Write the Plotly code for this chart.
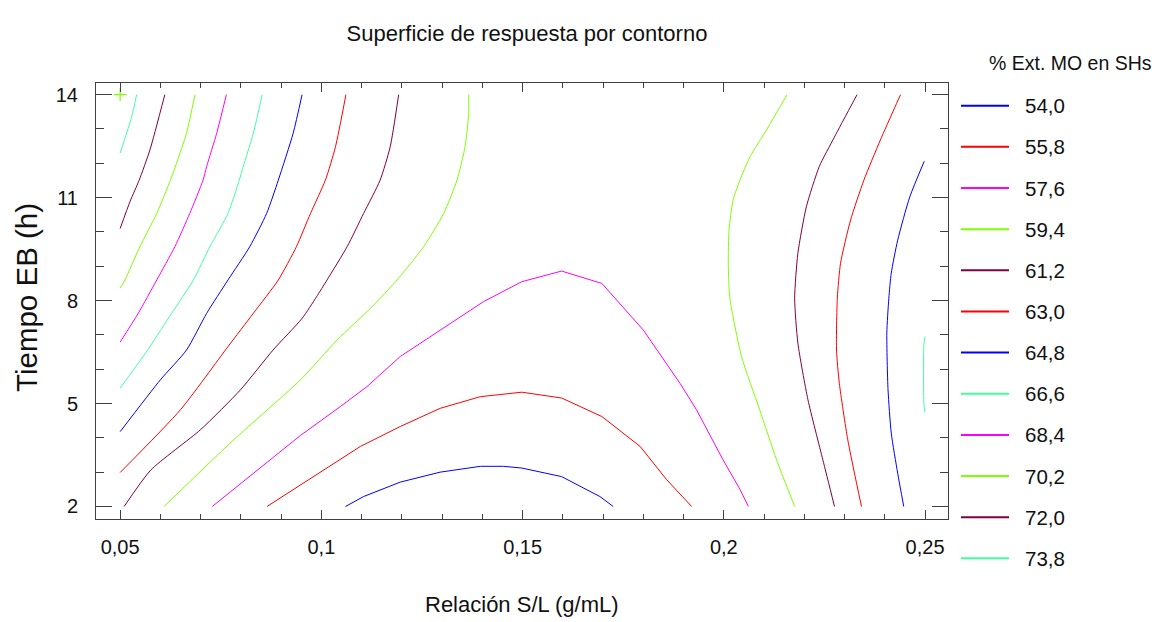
import plotly.graph_objects as go

# ---------------- data ----------------
level_labels = ["54,0", "55,8", "57,6", "59,4", "61,2", "63,0",
                "64,8", "66,6", "68,4", "70,2", "72,0", "73,8"]
level_colors = ["#0000ff", "#ff0000", "#ff00ff", "#80ff00", "#800040", "#ff0000",
                "#0000ff", "#40ffa0", "#ff00ff", "#80ff00", "#800040", "#40ffa0"]
level_shapes = ["linear", "linear", "linear", "spline", "spline", "spline",
                "spline", "spline", "spline", "spline", "spline", "spline"]

# 54,0
x_540 = [0.106, 0.1105, 0.1196, 0.1295, 0.1395, 0.1452, 0.1498, 0.1597, 0.1692, 0.1725]
y_540 = [2.0, 2.29, 2.71, 3.0, 3.17, 3.17, 3.12, 2.87, 2.29, 2.0]
# 55,8
x_558 = [0.0865, 0.0948, 0.1097, 0.1196, 0.1295, 0.1395, 0.1498, 0.1597, 0.1697, 0.1792, 0.1858, 0.192]
y_558 = [2.0, 2.63, 3.75, 4.33, 4.86, 5.2, 5.33, 5.16, 4.62, 3.75, 2.78, 2.0]
# 57,6
x_576 = [0.0729, 0.0948, 0.1047, 0.1113, 0.1196, 0.1303, 0.1403, 0.1498, 0.1597, 0.1697,
         0.18, 0.1891, 0.1932, 0.1998, 0.204, 0.2061]
y_576 = [2.0, 4.07, 4.91, 5.49, 6.37, 7.19, 7.97, 8.55, 8.86, 8.5,
         7.14, 5.59, 4.82, 3.36, 2.5, 2.0]
# 59,4 (two branches)
x_594_a = [0.0609, 0.0782, 0.0948, 0.1039, 0.1126, 0.1188, 0.1254, 0.1304, 0.1337, 0.1357, 0.1366, 0.1366]
y_594_a = [2.0, 3.94, 5.69, 6.85, 7.82, 8.6, 9.57, 10.54, 11.51, 12.48, 13.45, 14.0]
x_594_b = [0.2157, 0.2106, 0.2065, 0.204, 0.2023, 0.2013, 0.2011, 0.2015, 0.2044, 0.2089, 0.2131, 0.2176]
y_594_b = [14.0, 12.97, 12.19, 11.51, 10.93, 10.06, 9.09, 8.07, 6.37, 4.82, 3.36, 2.0]
# 61,2
x_612_a = [0.051, 0.0576, 0.07, 0.0799, 0.088, 0.0952, 0.0988, 0.1014, 0.1064, 0.1105, 0.1146, 0.1171, 0.1192]
y_612_a = [2.0, 3.06, 4.24, 5.4, 6.56, 7.48, 8.11, 8.6, 9.57, 10.54, 11.51, 12.48, 14.0]
x_612_b = [0.2331, 0.2275, 0.2237, 0.2205, 0.2184, 0.2176, 0.2184, 0.2209, 0.2246, 0.2275]
y_612_b = [14.0, 12.77, 11.9, 10.73, 9.38, 8.07, 6.76, 5.11, 3.36, 2.0]
# 63,0
x_630_a = [0.05, 0.065, 0.0768, 0.0831, 0.0893, 0.0938, 0.0973, 0.101, 0.1035, 0.1061]
y_630_a = [2.99, 4.82, 6.66, 7.63, 8.6, 9.57, 10.54, 11.51, 12.48, 14.0]
x_630_b = [0.2439, 0.2389, 0.2348, 0.2315, 0.229, 0.2282, 0.228, 0.2287, 0.2308, 0.2342]
y_630_b = [14.0, 12.68, 11.51, 10.35, 9.09, 8.07, 6.56, 5.59, 3.94, 2.0]
# 64,8
x_648_a = [0.05, 0.06, 0.0665, 0.0715, 0.0768, 0.0822, 0.0864, 0.0893, 0.093, 0.0952]
y_648_a = [4.18, 5.69, 6.56, 7.63, 8.6, 9.57, 10.54, 11.51, 12.88, 14.0]
x_648_b = [0.2498, 0.2462, 0.2432, 0.2416, 0.241, 0.2405, 0.2408, 0.2416, 0.2432, 0.2447]
y_648_b = [12.06, 11.02, 9.76, 8.8, 8.07, 7.05, 5.4, 4.14, 2.97, 2.0]
# 66,6
x_666_a = [0.05, 0.0551, 0.0574, 0.0628, 0.0682, 0.0723, 0.0768, 0.0796, 0.0806, 0.0831, 0.0853]
y_666_a = [5.45, 6.27, 6.66, 7.63, 8.6, 9.57, 10.54, 11.51, 11.91, 12.88, 14.0]
x_666_b = [0.25, 0.2497, 0.2497, 0.25]
y_666_b = [6.95, 6.7, 5.0, 4.74]
# 68,4
x_684 = [0.05, 0.0545, 0.0591, 0.0636, 0.0673, 0.0706, 0.0715, 0.074, 0.0764]
y_684 = [6.79, 7.63, 8.6, 9.57, 10.54, 11.51, 11.91, 12.88, 14.0]
# 70,2
x_702 = [0.05, 0.0512, 0.0549, 0.0591, 0.0625, 0.064, 0.0665, 0.0686]
y_702 = [8.36, 8.6, 9.57, 10.54, 11.51, 12.0, 12.88, 14.0]
# 72,0
x_720 = [0.05, 0.0525, 0.0547, 0.0574, 0.0611]
y_720 = [10.1, 10.9, 11.5, 12.39, 14.0]
# 73,8
x_738 = [0.05, 0.0529, 0.0541]
y_738 = [12.3, 13.37, 14.0]

# corner point marker
corner_x = [0.05]
corner_y = [14.0]

x_tick_vals = [0.05, 0.1, 0.15, 0.2, 0.25]
x_tick_text = ["0,05", "0,1", "0,15", "0,2", "0,25"]
y_tick_vals = [2, 5, 8, 11, 14]
y_tick_text = ["2", "5", "8", "11", "14"]

title_text = "Superficie de respuesta por contorno"
x_title = "Relación S/L (g/mL)"
y_title = "Tiempo EB (h)"
legend_title = "% Ext. MO en SHs"

# ---------------- figure ----------------
def join(*segs):
    out = []
    for i, s in enumerate(segs):
        if i:
            out.append(None)
        out.extend(s)
    return out

series_x = [x_540, x_558, x_576, join(x_594_a, x_594_b), join(x_612_a, x_612_b),
            join(x_630_a, x_630_b), join(x_648_a, x_648_b), join(x_666_a, x_666_b),
            x_684, x_702, x_720, x_738]
series_y = [y_540, y_558, y_576, join(y_594_a, y_594_b), join(y_612_a, y_612_b),
            join(y_630_a, y_630_b), join(y_648_a, y_648_b), join(y_666_a, y_666_b),
            y_684, y_702, y_720, y_738]

FONT = "Liberation Sans, Arial, sans-serif"
TXT = "#111111"

fig = go.Figure()
for i, (xs, ys) in enumerate(zip(series_x, series_y)):
    fig.add_trace(go.Scatter(
        x=xs, y=ys, mode="lines", name=level_labels[i],
        line=dict(color=level_colors[i], width=1, shape=level_shapes[i], smoothing=0.6),
        connectgaps=False, showlegend=False, hoverinfo="name",
    ))

fig.add_trace(go.Scatter(
    x=corner_x, y=corner_y, mode="markers", showlegend=False, hoverinfo="skip",
    marker=dict(symbol="cross-thin", size=9, line=dict(color="#80ff00", width=1.2)),
))

# plot-area geometry in pixels (used only to place layout items in paper units)
PL, PR, PT, PB = 96, 948, 83, 519
PW, PH = PR - PL, PB - PT

def px_x(p):
    return (p - PL) / PW

def px_y(p):
    return (PB - p) / PH

axis_common = dict(
    showline=True, linecolor="#404040", linewidth=1, mirror="allticks",
    ticks="inside", tickcolor="#404040", showgrid=False, zeroline=False,
    tickfont=dict(family=FONT, size=20, color=TXT),
)

shapes = []
annotations = [
    dict(text=x_title, xref="paper", yref="paper", x=0.5, y=px_y(604),
         xanchor="center", yanchor="middle", showarrow=False,
         font=dict(family=FONT, size=22, color=TXT)),
    dict(text=y_title, xref="paper", yref="paper", x=px_x(26), y=px_y(298),
         xanchor="center", yanchor="middle", showarrow=False, textangle=-90,
         font=dict(family=FONT, size=29.5, color=TXT)),
    dict(text=legend_title, xref="paper", yref="paper", x=px_x(1070), y=px_y(63),
         xanchor="center", yanchor="middle", showarrow=False,
         font=dict(family=FONT, size=19.5, color=TXT)),
]
# legend drawn as line samples + labels
for i, (lab, col) in enumerate(zip(level_labels, level_colors)):
    yc = px_y(105.7 + 41.15 * i)
    shapes.append(dict(type="line", xref="paper", yref="paper",
                       x0=px_x(961), x1=px_x(1009), y0=yc, y1=yc,
                       line=dict(color=col, width=2)))
    annotations.append(dict(text=lab, xref="paper", yref="paper", x=px_x(1023), y=yc,
                            xanchor="left", yanchor="middle", showarrow=False,
                            font=dict(family=FONT, size=20.5, color=TXT)))

fig.update_layout(
    width=1161, height=622,
    margin=dict(l=PL, r=1161 - PR, t=PT, b=622 - PB),
    paper_bgcolor="white", plot_bgcolor="white",
    title=dict(text=title_text, x=527 / 1161, xanchor="center", y=1 - 33 / 622, yanchor="middle",
               font=dict(family=FONT, size=22, color=TXT)),
    xaxis=dict(range=[0.044, 0.2557], tickmode="array", tickvals=x_tick_vals, ticktext=x_tick_text,
               ticklen=9, ticklabelstandoff=10,
               minor=dict(ticks="inside", ticklen=5, dtick=0.01, tick0=0, tickcolor="#404040"),
               **axis_common),
    yaxis=dict(range=[1.635, 14.34], tickmode="array", tickvals=y_tick_vals, ticktext=y_tick_text,
               ticklen=16, ticklabelstandoff=13,
               minor=dict(ticks="inside", ticklen=8, dtick=1, tick0=0, tickcolor="#404040"),
               **axis_common),
    showlegend=False,
    shapes=shapes,
    annotations=annotations,
)

fig.write_html("out.html")
